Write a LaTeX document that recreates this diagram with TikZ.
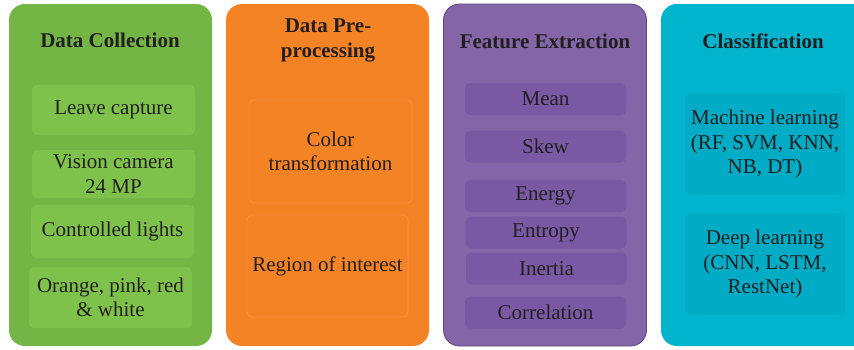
\documentclass[tikz,border=0pt]{standalone}
\usepackage{fontspec}
\setmainfont{Liberation Serif}
\definecolor{ink}{RGB}{35,31,32}
\definecolor{grn}{RGB}{115,182,70}
\definecolor{grnin}{RGB}{126,194,76}
\definecolor{org}{RGB}{244,131,38}
\definecolor{orgline}{RGB}{248,147,62}
\definecolor{pur}{RGB}{131,101,168}
\definecolor{purin}{RGB}{121,89,163}
\definecolor{purline}{RGB}{92,70,128}
\definecolor{cya}{RGB}{0,180,205}
\definecolor{cyain}{RGB}{0,171,197}

\begin{document}
\begin{tikzpicture}[x=1pt, y=-1pt, font=\fontsize{21}{24.5}\selectfont, text=ink,
                    panel/.style = {rounded corners=16pt, minimum width=203pt, minimum height=342pt, inner sep=0pt},
                    item/.style = {rounded corners=5pt, inner sep=0pt, minimum width=163pt, align=center},
                    head/.style = {font=\fontsize{21}{24.5}\selectfont\bfseries, align=center}]
                    \useasboundingbox (0,0) rectangle (854,349);
                    \clip (0,0) rectangle (854,349);
                    % columns
                    \node[panel, fill=grn] (col1) at (110.5,175) {};
                    \node[panel, fill=org] (col2) at (327.5,175) {};
                    \node[panel, fill=pur, draw=purline, line width=0.8pt] (col3) at (545,175) {};
                    \node[panel, fill=cya, minimum width=220pt] (col4) at (771,175) {};
                    % titles
                    \node[head] (t1) at (110,40) {Data Collection};
                    \node[head] (t2) at (328,40.5) {Data Pre-\\processing};
                    \node[head] (t3) at (545,41) {Feature Extraction};
                    \node[head] (t4) at (763,41) {Classification};
                    % data collection
                    \node[item, fill=grnin, minimum height=50pt] (cap) at (113.5,110) {Leave capture};
                    \node[item, fill=grnin, minimum height=48pt] (cam) at (113.5,174) {Vision camera\\24 MP};
                    \node[item, fill=grnin, minimum height=53pt] (lig) at (112.5,231.5) {Controlled lights};
                    \node[item, fill=grnin, minimum height=61pt] (flw) at (110.5,297.5) {Orange, pink, red\\\& white};
                    % pre-processing
                    \node[item, fill=org, draw=orgline, line width=0.7pt, minimum height=103pt] (ctf) at (330.5,151.5) {Color\\transformation};
                    \node[item, fill=org, draw=orgline, line width=0.7pt, minimum width=161pt, minimum height=102pt] (roi) at (327.5,266) {Region of interest};
                    % features
                    \node[item, fill=purin, minimum width=161pt, minimum height=32pt] (mean) at (545.5,99) {Mean};
                    \node[item, fill=purin, minimum width=161pt, minimum height=32pt] (skew) at (545.5,146.5) {Skew};
                    \node[item, fill=purin, minimum width=161pt, minimum height=32pt] (ener) at (545.5,196) {Energy};
                    \node[item, fill=purin, minimum width=161pt, minimum height=32pt] (entr) at (546,232.5) {Entropy};
                    \node[item, fill=purin, minimum width=161pt, minimum height=32pt] (iner) at (546.5,268.5) {Inertia};
                    \node[item, fill=purin, minimum width=161pt, minimum height=32pt] (corr) at (545.5,312.5) {Correlation};
                    % classifiers
                    \node[item, fill=cyain, minimum width=160pt, minimum height=102pt] (ml) at (765,144) {Machine learning\\(RF, SVM, KNN,\\NB, DT)};
                    \node[item, fill=cyain, minimum width=160pt, minimum height=102pt] (dl) at (765,264) {Deep learning\\(CNN, LSTM,\\RestNet)};
                \end{tikzpicture}
\end{document}
